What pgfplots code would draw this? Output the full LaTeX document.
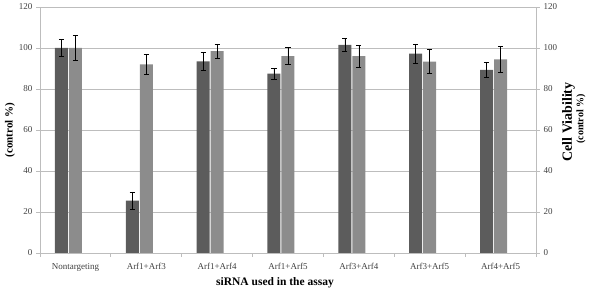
\documentclass[border=0pt]{standalone}
\usepackage{pgfplots}
\pgfplotsset{compat=1.18}
\usepackage{pgfplotstable}
\usepackage{fontspec}
\setmainfont{Liberation Serif}

\definecolor{bardark}{HTML}{5C5C5C}
\definecolor{barlight}{HTML}{8C8C8C}
\definecolor{gridgray}{HTML}{BDBDBD}
\definecolor{ticktext}{HTML}{404040}

% x: category index, a/ea: first siRNA readout, b/eb: cell viability
\pgfplotstableread{
x a ea b eb
0 100 4.2 100 6.2
1 25.6 4.2 92 5.0
2 93.5 4.5 98.5 3.5
3 87.5 2.6 96 4.2
4 101.5 3.0 96 5.2
5 97.2 4.8 93.4 5.8
6 89.3 3.6 94.5 6.2
}\viability

\begin{document}
\begin{tikzpicture}[x=1pt,y=1pt]
\useasboundingbox (0,0) rectangle (592,291);
\begin{axis}[
  at={(40pt,38pt)}, anchor=south west,
  width=496pt, height=246pt, scale only axis,
  xmin=-0.5, xmax=6.5, ymin=0, ymax=120,
  ytick={0,20,...,120},
  xtick={0,...,6},
  xticklabels={Nontargeting,Arf1+Arf3,Arf1+Arf4,Arf1+Arf5,Arf3+Arf4,Arf3+Arf5,Arf4+Arf5},
  minor xtick={-0.5,0.5,...,6.5},
  major x tick style={draw=none},
  tick align=outside,
  major tick length=4pt, minor tick length=4pt,
  tick style={gridgray, line width=0.8pt},
  xtick pos=bottom, ytick pos=left,
  ymajorgrids, grid style={gridgray, line width=0.9pt},
  axis line style={gridgray, line width=0.9pt},
  tick label style={font=\fontsize{9}{10}\selectfont, text=ticktext},
  /pgf/number format/assume math mode=true,
  xticklabel style={yshift=-3pt},
]
% dark bars sit one bar slot (14pt of a 70.86pt category) left of centre
\addplot[ybar, bar width=13pt, bar shift=0pt, fill=bardark, draw=none,
  error bars/.cd, y dir=both, y explicit,
  error bar style={draw=black, line width=0.7pt},
  error mark options={rotate=90, mark size=2.6pt, draw=black, line width=0.7pt}]
  table[x expr=\thisrow{x}-0.1976, y=a, y error=ea] {\viability};
\addplot[ybar, bar width=13pt, bar shift=0pt, fill=barlight, draw=none,
  error bars/.cd, y dir=both, y explicit,
  error bar style={draw=black, line width=0.7pt},
  error mark options={rotate=90, mark size=2.6pt, draw=black, line width=0.7pt}]
  table[x=x, y=b, y error=eb] {\viability};
\end{axis}
\begin{axis}[
  at={(40pt,38pt)}, anchor=south west,
  width=496pt, height=246pt, scale only axis,
  xmin=-0.5, xmax=6.5, ymin=0, ymax=120,
  axis y line*=right, axis x line=none,
  ytick={0,20,...,120},
  tick align=outside, major tick length=4pt,
  tick style={gridgray, line width=0.8pt},
  axis line style={gridgray, line width=0.9pt},
  tick label style={font=\fontsize{9}{10}\selectfont, text=ticktext},
  /pgf/number format/assume math mode=true,
]
\addplot[draw=none] coordinates {(0,0)};
\end{axis}
\node[rotate=90, font=\bfseries\fontsize{14}{15}\selectfont] at (568.5,169) {Cell Viability};
\node[rotate=90, font=\bfseries\fontsize{10}{11}\selectfont] at (581,172) {(control \%)};
\node[rotate=90, font=\bfseries\fontsize{11}{12}\selectfont] at (10,161) {(control \%)};
\node[font=\bfseries\fontsize{11.5}{12}\selectfont] at (275,8) {siRNA used in the assay};
\end{tikzpicture}
\end{document}
